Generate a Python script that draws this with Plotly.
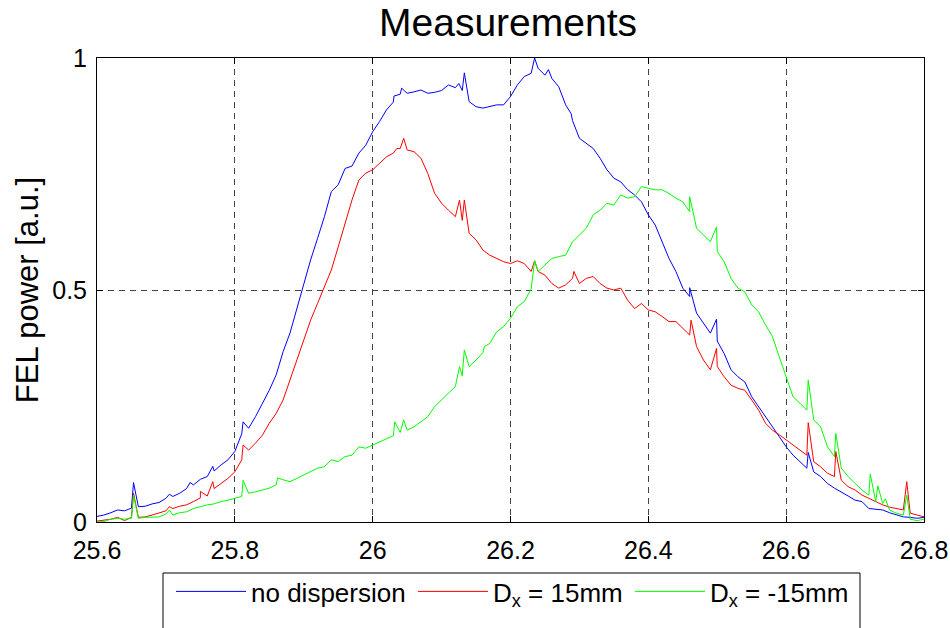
import plotly.graph_objects as go

# sampling grid of the measurement (photon energy axis)
x_grid = [round(25.60 + 0.01 * i, 2) for i in range(121)]

no_disp = [0.012, 0.015, 0.020, 0.026, 0.024, 0.030, 0.033, 0.034, 0.039, 0.042,
           0.051, 0.055, 0.062, 0.072, 0.080, 0.092, 0.098, 0.110, 0.123, 0.134,
           0.152, 0.190, 0.202, 0.227, 0.256, 0.284, 0.317, 0.367, 0.407, 0.460,
           0.512, 0.565, 0.611, 0.658, 0.712, 0.727, 0.762, 0.767, 0.795, 0.812,
           0.841, 0.863, 0.888, 0.905, 0.922, 0.924, 0.927, 0.931, 0.924, 0.926,
           0.930, 0.942, 0.936, 0.930, 0.906, 0.895, 0.892, 0.895, 0.899, 0.899,
           0.917, 0.942, 0.960, 0.967, 0.978, 0.963, 0.956, 0.938, 0.899, 0.865,
           0.827, 0.816, 0.805, 0.784, 0.759, 0.741, 0.733, 0.716, 0.705, 0.690,
           0.662, 0.640, 0.604, 0.568, 0.540, 0.504, 0.486, 0.450, 0.428, 0.407,
           0.390, 0.363, 0.328, 0.313, 0.302, 0.270, 0.249, 0.227, 0.205, 0.184,
           0.162, 0.144, 0.130, 0.116, 0.108, 0.098, 0.083, 0.073, 0.065, 0.056,
           0.047, 0.044, 0.029, 0.027, 0.026, 0.020, 0.015, 0.011, 0.010, 0.008,
           0.010]

dx_pos = [0.002, 0.004, 0.006, 0.010, 0.003, 0.010, 0.010, 0.011, 0.015, 0.019,
          0.024, 0.029, 0.034, 0.037, 0.044, 0.052, 0.056, 0.072, 0.083, 0.094,
          0.108, 0.134, 0.155, 0.170, 0.187, 0.213, 0.234, 0.263, 0.306, 0.349,
          0.392, 0.435, 0.471, 0.507, 0.543, 0.593, 0.644, 0.694, 0.737, 0.752,
          0.759, 0.773, 0.787, 0.795, 0.805, 0.802, 0.798, 0.784, 0.751, 0.708,
          0.687, 0.672, 0.658, 0.650, 0.622, 0.608, 0.586, 0.575, 0.568, 0.561,
          0.557, 0.563, 0.557, 0.540, 0.540, 0.532, 0.514, 0.504, 0.511, 0.525,
          0.514, 0.525, 0.529, 0.514, 0.504, 0.500, 0.504, 0.478, 0.460, 0.471,
          0.457, 0.453, 0.443, 0.432, 0.432, 0.417, 0.403, 0.378, 0.349, 0.328,
          0.335, 0.313, 0.295, 0.288, 0.284, 0.263, 0.241, 0.213, 0.198, 0.188,
          0.177, 0.166, 0.155, 0.144, 0.130, 0.119, 0.105, 0.098, 0.090, 0.076,
          0.069, 0.058, 0.051, 0.044, 0.037, 0.032, 0.029, 0.026, 0.019, 0.015,
          0.011]

dx_neg = [0.000, 0.001, 0.006, 0.008, 0.006, 0.008, 0.008, 0.010, 0.011, 0.011,
          0.017, 0.015, 0.020, 0.022, 0.029, 0.033, 0.037, 0.039, 0.044, 0.047,
          0.051, 0.055, 0.062, 0.065, 0.069, 0.073, 0.080, 0.091, 0.087, 0.094,
          0.101, 0.108, 0.116, 0.119, 0.134, 0.130, 0.141, 0.144, 0.162, 0.159,
          0.166, 0.173, 0.180, 0.186, 0.193, 0.198, 0.205, 0.216, 0.227, 0.249,
          0.263, 0.277, 0.292, 0.315, 0.335, 0.349, 0.365, 0.385, 0.410, 0.421,
          0.439, 0.464, 0.475, 0.502, 0.540, 0.554, 0.568, 0.572, 0.575, 0.604,
          0.619, 0.633, 0.662, 0.672, 0.687, 0.683, 0.705, 0.698, 0.701, 0.723,
          0.719, 0.716, 0.716, 0.708, 0.698, 0.690, 0.669, 0.633, 0.619, 0.604,
          0.583, 0.561, 0.525, 0.504, 0.496, 0.468, 0.453, 0.425, 0.400, 0.356,
          0.313, 0.270, 0.256, 0.241, 0.220, 0.205, 0.162, 0.141, 0.116, 0.098,
          0.083, 0.069, 0.058, 0.044, 0.040, 0.026, 0.019, 0.015, 0.006, 0.003,
          0.006]

# narrow spikes between grid samples
no_disp_spike_x = [25.653, 25.705, 25.735, 25.768, 25.812, 26.031, 26.042, 26.125,
                   26.133, 26.235, 26.255, 26.288, 26.460, 26.499, 26.632]
no_disp_spike_y = [0.085, 0.060, 0.085, 0.120, 0.216, 0.918, 0.935, 0.945,
                   0.968, 1.000, 0.975, 0.880, 0.505, 0.437, 0.150]

dx_pos_spike_x = [25.653, 25.705, 25.750, 25.768, 25.812, 26.035, 26.045, 26.126,
                  26.133, 26.235, 26.292, 26.462, 26.499, 26.632, 26.672, 26.775]
dx_pos_spike_y = [0.062, 0.033, 0.066, 0.087, 0.166, 0.805, 0.827, 0.694,
                  0.694, 0.563, 0.540, 0.435, 0.374, 0.214, 0.152, 0.087]

dx_neg_spike_x = [25.653, 25.705, 25.812, 25.862, 26.032, 26.045, 26.126, 26.133,
                  26.162, 26.235, 26.460, 26.499, 26.632, 26.672, 26.722, 26.733,
                  26.744, 26.775]
dx_neg_spike_y = [0.058, 0.026, 0.090, 0.095, 0.216, 0.220, 0.335, 0.371,
                  0.378, 0.563, 0.701, 0.636, 0.306, 0.191, 0.103, 0.078,
                  0.050, 0.058]

x_ticks = [25.6, 25.8, 26.0, 26.2, 26.4, 26.6, 26.8]
x_tick_text = ["25.6", "25.8", "26", "26.2", "26.4", "26.6", "26.8"]
y_ticks = [0, 0.5, 1]
y_tick_text = ["0", "0.5", "1"]

names = ["no dispersion", "D<sub>x</sub> = 15mm", "D<sub>x</sub> = -15mm"]
colors = ["#0000FF", "#FF0000", "#00FF00"]


def merged(xs, ys, sx, sy):
    pts = sorted(list(zip(xs, ys)) + list(zip(sx, sy)))
    return [p[0] for p in pts], [p[1] for p in pts]


series = [
    merged(x_grid, no_disp, no_disp_spike_x, no_disp_spike_y),
    merged(x_grid, dx_pos, dx_pos_spike_x, dx_pos_spike_y),
    merged(x_grid, dx_neg, dx_neg_spike_x, dx_neg_spike_y),
]

FONT = "Arial, 'Liberation Sans', Helvetica, sans-serif"
W, H = 950, 628
L, R, T, B = 97, 26, 58, 106
pw, ph = W - L - R, H - T - B

legend_ids = ["legend", "legend2", "legend3"]
legend_left_px = [171, 413, 630]

fig = go.Figure()
for (sx, sy), nm, col, lg in zip(series, names, colors, legend_ids):
    fig.add_trace(go.Scatter(x=sx, y=sy, mode="lines", name=nm, legend=lg,
                             line=dict(color=col, width=1)))


def px_x(p):
    return (p - L) / pw


def px_y(p):
    return (H - B - p) / ph


legend_common = dict(orientation="h", xref="container", yref="container",
                     xanchor="left", yanchor="top", y=1 - 568 / H,
                     bgcolor="rgba(0,0,0,0)", borderwidth=0, itemwidth=70,
                     font=dict(size=26, family=FONT, color="black"))

layout_legends = {}
for lg, lx in zip(legend_ids, legend_left_px):
    layout_legends[lg] = dict(legend_common, x=lx / W)

fig.update_layout(
    width=W, height=H,
    margin=dict(l=L, r=R, t=T, b=B, autoexpand=False),
    paper_bgcolor="white", plot_bgcolor="white",
    font=dict(family=FONT, size=25, color="black"),
    title=dict(text="Measurements", x=px_x(508), xref="paper", xanchor="center",
               y=1 - 22 / H, yref="container", yanchor="middle",
               font=dict(size=39, family=FONT, color="black")),
    showlegend=True,
    shapes=[dict(type="rect", xref="paper", yref="paper",
                 x0=px_x(163), x1=px_x(860), y0=px_y(573), y1=px_y(660),
                 line=dict(color="black", width=1), fillcolor="rgba(0,0,0,0)",
                 layer="above")],
    **layout_legends,
)

fig.update_xaxes(range=[25.6, 26.8], tickvals=x_ticks, ticktext=x_tick_text,
                 showline=True, linecolor="black", linewidth=1, mirror="ticks",
                 ticks="inside", ticklen=6, tickcolor="black", automargin=False,
                 showgrid=True, gridcolor="#444444", griddash="6px,5px", gridwidth=1,
                 zeroline=False, ticklabelstandoff=6,
                 tickfont=dict(size=25, family=FONT, color="black"))
fig.update_yaxes(range=[0, 1], tickvals=y_ticks, ticktext=y_tick_text,
                 showline=True, linecolor="black", linewidth=1, mirror="ticks",
                 ticks="inside", ticklen=6, tickcolor="black", automargin=False,
                 showgrid=True, gridcolor="#444444", griddash="6px,5px", gridwidth=1,
                 zeroline=False, ticklabelstandoff=4,
                 title=dict(text="FEL power [a.u.]", standoff=4,
                            font=dict(size=31, family=FONT, color="black")),
                 tickfont=dict(size=25, family=FONT, color="black"))

fig.write_html("out.html")
